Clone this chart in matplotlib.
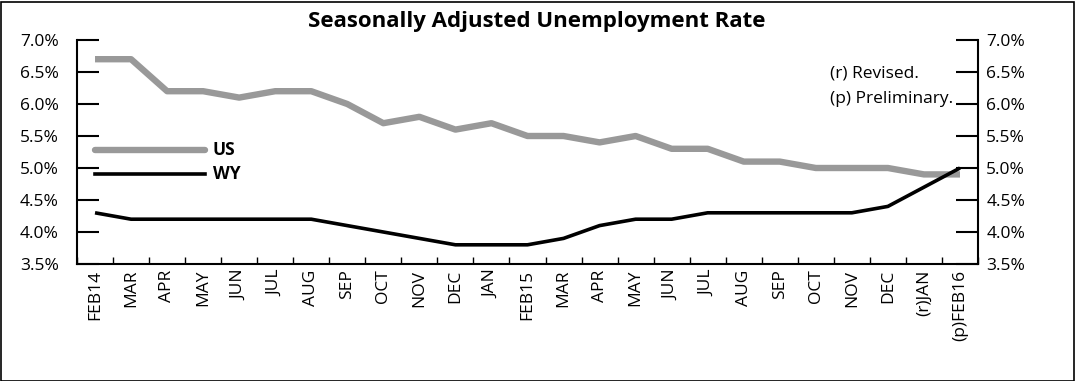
import numpy as np
import matplotlib.pyplot as plt
from matplotlib.patches import Rectangle
from matplotlib.lines import Line2D

plt.rcParams['font.family'] = ['Open Sans', 'DejaVu Sans']

### DATA
months = ['FEB14', 'MAR', 'APR', 'MAY', 'JUN', 'JUL', 'AUG', 'SEP', 'OCT', 'NOV',
          'DEC', 'JAN', 'FEB15', 'MAR', 'APR', 'MAY', 'JUN', 'JUL', 'AUG', 'SEP',
          'OCT', 'NOV', 'DEC', '(r)JAN', '(p)FEB16']
us = [6.7, 6.7, 6.2, 6.2, 6.1, 6.2, 6.2, 6.0, 5.7, 5.8, 5.6, 5.7, 5.5,
      5.5, 5.4, 5.5, 5.3, 5.3, 5.1, 5.1, 5.0, 5.0, 5.0, 4.9, 4.9]
wy = [4.3, 4.2, 4.2, 4.2, 4.2, 4.2, 4.2, 4.1, 4.0, 3.9, 3.8, 3.8, 3.8,
      3.9, 4.1, 4.2, 4.2, 4.3, 4.3, 4.3, 4.3, 4.3, 4.4, 4.7, 5.0]
yticks = [3.5, 4.0, 4.5, 5.0, 5.5, 6.0, 6.5, 7.0]

gray = '#999999'
x = np.arange(len(months))

fig = plt.figure(figsize=(10.75, 3.81), dpi=100)
ax = fig.add_axes([77/1075, 1 - 264/381, (978 - 77)/1075, (264 - 40)/381])

ax.plot(x, us, color=gray, lw=4.6, solid_capstyle='butt', zorder=3)
ax.plot(x, wy, color='black', lw=2.6, solid_capstyle='butt', zorder=4)

ax.set_xlim(-0.5, len(months) - 0.5)
ax.set_ylim(3.5, 7.0)
ax.set_yticks(yticks)
ax.set_yticklabels(['%.1f%%' % v for v in yticks], fontsize=12.5)
ax.tick_params(axis='y', direction='in', length=16, width=1.5, pad=13)

# category labels, ticks between categories
ax.set_xticks(x)
ax.set_xticklabels(months, rotation=90, fontsize=12.5)
ax.tick_params(axis='x', which='major', length=0, pad=4)
ax.set_xticks(np.arange(-0.5, len(months)), minor=True)
ax.tick_params(axis='x', which='minor', direction='in', length=5, width=1)

for s in ['top', 'right']:
    ax.spines[s].set_visible(False)
for s in ['left', 'bottom']:
    ax.spines[s].set_linewidth(1.5)

### Right axis
ax2 = ax.twinx()
ax2.set_ylim(3.5, 7.0)
ax2.set_yticks(yticks)
ax2.set_yticklabels(['%.1f%%' % v for v in yticks], fontsize=12.5)
ax2.tick_params(axis='y', direction='in', length=16, width=1.5, pad=6)
for s in ['top', 'left', 'bottom']:
    ax2.spines[s].set_visible(False)
ax2.spines['right'].set_linewidth(1.5)

### Legend drawn by hand
fig.add_artist(Line2D([95/1075, 205/1075], [1 - 150/381, 1 - 150/381],
                      color=gray, lw=4.6, solid_capstyle='round'))
fig.add_artist(Line2D([95/1075, 205/1075], [1 - 174/381, 1 - 174/381],
                      color='black', lw=2.6))
fig.text(213/1075, 1 - 150/381, 'US', fontsize=12.5, fontweight='bold', va='center')
fig.text(213/1075, 1 - 174/381, 'WY', fontsize=12.5, fontweight='bold', va='center')

### Notes
fig.text(830/1075, 1 - 74/381, '(r) Revised.', fontsize=12.5, va='center')
fig.text(830/1075, 1 - 99/381, '(p) Preliminary.', fontsize=12.5, va='center')

### Title
fig.text(537/1075, 1 - 22/381, 'Seasonally Adjusted Unemployment Rate',
         fontsize=16, fontweight='bold', ha='center', va='center')

### Border
fig.add_artist(Rectangle((0.5/1075, 0.5/381), 1073/1075, 379/381,
                         transform=fig.transFigure, fill=False,
                         edgecolor='black', lw=1.2))

fig.savefig('out.png', dpi=100)
